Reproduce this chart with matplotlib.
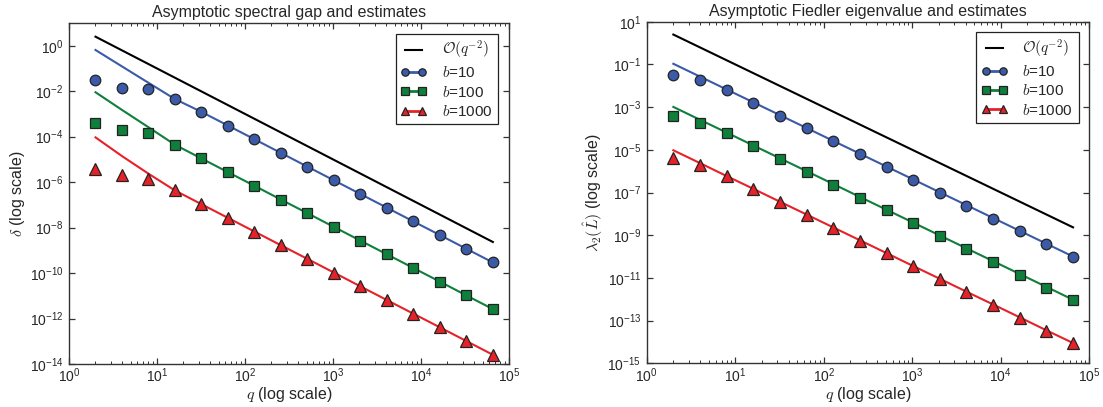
import matplotlib
matplotlib.use('Agg')
import matplotlib.pyplot as plt
from matplotlib.lines import Line2D
from matplotlib.ticker import FixedLocator, LogLocator, NullLocator, NullFormatter

plt.rcParams['font.family'] = ['Liberation Sans', 'DejaVu Sans']
plt.rcParams['mathtext.fontset'] = 'cm'
plt.rcParams['axes.unicode_minus'] = True

# ---------------- data ----------------
q = [2, 4, 8, 16, 32, 64, 128, 256, 512, 1024, 2048, 4096, 8192, 16384, 32768, 65536]

# reference O(q^-2) line (end points)
ref_q = [2, 65536]
ref_left = [2.5, 2.33e-9]
ref_right = [2.5, 2.33e-9]

# Left panel: spectral gap delta -- measured (markers)
gap_b10 = [3.1e-2, 1.35e-2, 1.26e-2, 4.5e-3, 1.23e-3, 3.08e-4, 7.7e-5, 1.92e-5, 4.8e-6,
           1.2e-6, 3.0e-7, 7.5e-8, 1.87e-8, 4.7e-9, 1.17e-9, 2.93e-10]
gap_b100 = [3.9e-4, 2.0e-4, 1.42e-4, 4.4e-5, 1.1e-5, 2.74e-6, 6.9e-7, 1.71e-7, 4.3e-8,
            1.07e-8, 2.67e-9, 6.7e-10, 1.67e-10, 4.2e-11, 1.04e-11, 2.6e-12]
gap_b1000 = [3.8e-6, 2.0e-6, 1.4e-6, 4.3e-7, 1.07e-7, 2.68e-8, 6.7e-9, 1.67e-9, 4.2e-10,
             1.05e-10, 2.6e-11, 6.5e-12, 1.63e-12, 4.1e-13, 1.02e-13, 2.55e-14]
# Left panel: estimates (lines)
gap_est_b10 = [0.65, 0.123, 2.34e-2, 4.5e-3, 1.23e-3, 3.08e-4, 7.7e-5, 1.92e-5, 4.8e-6,
               1.2e-6, 3.0e-7, 7.5e-8, 1.87e-8, 4.7e-9, 1.17e-9, 2.93e-10]
gap_est_b100 = [9.0e-3, 1.5e-3, 2.6e-4, 4.4e-5, 1.1e-5, 2.74e-6, 6.9e-7, 1.71e-7, 4.3e-8,
                1.07e-8, 2.67e-9, 6.7e-10, 1.67e-10, 4.2e-11, 1.04e-11, 2.6e-12]
gap_est_b1000 = [9.3e-5, 1.4e-5, 2.35e-6, 4.3e-7, 1.07e-7, 2.68e-8, 6.7e-9, 1.67e-9, 4.2e-10,
                 1.05e-10, 2.6e-11, 6.5e-12, 1.63e-12, 4.1e-13, 1.02e-13, 2.55e-14]

# Right panel: Fiedler eigenvalue -- measured (markers)
fied_b10 = [3.2e-2, 1.86e-2, 6.1e-3, 1.6e-3, 4.0e-4, 1.0e-4, 2.5e-5, 6.2e-6, 1.55e-6,
            3.9e-7, 9.8e-8, 2.4e-8, 6.0e-9, 1.5e-9, 3.8e-10, 9.5e-11]
fied_b100 = [3.8e-4, 1.86e-4, 5.9e-5, 1.5e-5, 3.7e-6, 9.3e-7, 2.3e-7, 5.8e-8, 1.45e-8,
             3.6e-9, 9.1e-10, 2.26e-10, 5.7e-11, 1.42e-11, 3.5e-12, 8.9e-13]
fied_b1000 = [4.0e-6, 1.95e-6, 5.9e-7, 1.45e-7, 3.5e-8, 8.9e-9, 2.2e-9, 5.5e-10, 1.39e-10,
              3.5e-11, 8.7e-12, 2.16e-12, 5.4e-13, 1.35e-13, 3.4e-14, 8.5e-15]
# Right panel: estimates (lines)
fied_est_b10 = [0.107, 2.68e-2, 6.7e-3, 1.68e-3, 4.2e-4, 1.05e-4, 2.62e-5, 6.56e-6, 1.64e-6,
                4.1e-7, 1.02e-7, 2.56e-8, 6.4e-9, 1.6e-9, 4.0e-10, 1.0e-10]
fied_est_b100 = [1.02e-3, 2.55e-4, 6.4e-5, 1.6e-5, 4.0e-6, 1.0e-6, 2.5e-7, 6.2e-8, 1.56e-8,
                 3.9e-9, 9.7e-10, 2.43e-10, 6.1e-11, 1.52e-11, 3.8e-12, 9.5e-13]
fied_est_b1000 = [9.5e-6, 2.38e-6, 5.9e-7, 1.49e-7, 3.7e-8, 9.3e-9, 2.32e-9, 5.8e-10, 1.45e-10,
                  3.6e-11, 9.1e-12, 2.26e-12, 5.7e-13, 1.42e-13, 3.5e-14, 8.9e-15]

series_labels = [r'$b$=10', r'$b$=100', r'$b$=1000']
ref_label = r'$\mathcal{O}(q^{-2})$'

x_tick_exps = [0, 1, 2, 3, 4, 5]
left_ytick_exps = [0, -2, -4, -6, -8, -10, -12, -14]
right_ytick_exps = [1, -1, -3, -5, -7, -9, -11, -13, -15]

titles = ['Asymptotic spectral gap and estimates', 'Asymptotic Fiedler eigenvalue and estimates']
ylabels = [r'$\delta$ (log scale)', r'$\lambda_2(\hat{L})$ (log scale)']
xlabel = r'$q$ (log scale)'

# ---------------- style ----------------
colors = ['#3b5ba8', '#0f7f3c', '#e62229']
markers = ['o', 's', '^']
text_color = '#262626'
spine_color = '#333333'

fig = plt.figure(figsize=(11.03, 4.07), dpi=100)
ax1 = fig.add_axes([0.06256, 0.10565, 0.39891, 0.83784])
ax2 = fig.add_axes([0.58631, 0.10737, 0.40127, 0.83931])


def fmt_exp(e):
    return r'$\mathregular{10^{%d}}$' % e


def draw(ax, meas, est, ref_vals, ylim, yexps, title, ylabel):
    ax.plot(ref_q, ref_vals, color='black', lw=1.5, zorder=2)
    for m, e, c, mk in zip(meas, est, colors, markers):
        ax.plot(q, e, color=c, lw=1.5, zorder=3)
        ax.plot(q, m, linestyle='none', marker=mk, ms=7.6 if mk != '^' else 8.2,
                mfc=c, mec='#222222', mew=0.9, zorder=4)
    ax.set_xscale('log')
    ax.set_yscale('log')
    ax.set_xlim(1, 1e5)
    ax.set_ylim(*ylim)
    ax.set_xticks([10.0 ** e for e in x_tick_exps], labels=[fmt_exp(e) for e in x_tick_exps])
    ax.xaxis.set_minor_locator(LogLocator(base=10, subs=range(2, 10), numticks=20))
    ax.xaxis.set_minor_formatter(NullFormatter())
    ax.set_yticks([10.0 ** e for e in yexps], labels=[fmt_exp(e) for e in yexps])
    ax.yaxis.set_minor_locator(NullLocator())
    ax.tick_params(which='both', direction='in', top=True, right=True,
                   colors=spine_color, labelcolor=text_color, labelsize=10)
    ax.tick_params(which='major', length=4.5, width=0.9)
    ax.tick_params(axis='x', which='major', pad=2)
    ax.tick_params(axis='y', which='major', pad=4)
    ax.tick_params(which='minor', length=2.2, width=0.7)
    for sp in ax.spines.values():
        sp.set_color(spine_color)
        sp.set_linewidth(1.0)
    ax.set_title(title, fontsize=11.5, color=text_color, pad=4)
    ax.set_xlabel(xlabel, fontsize=11.5, color=text_color, labelpad=0)
    ax.set_ylabel(ylabel, fontsize=11.5, color=text_color, labelpad=2)

    handles = [Line2D([], [], color='black', lw=1.5)]
    for c, mk in zip(colors, markers):
        handles.append(Line2D([], [], color=c, lw=2, marker=mk, ms=7.6 if mk != '^' else 8.2,
                              mfc=c, mec='#222222', mew=0.9))
    leg = ax.legend(handles, [ref_label] + series_labels, loc='upper right', fontsize=11,
                    numpoints=2, markerscale=0.7, fancybox=False, framealpha=1,
                    edgecolor='#222222', handlelength=1.7, handletextpad=1.0,
                    borderaxespad=0.7, borderpad=0.35, labelspacing=0.28)
    leg.get_frame().set_linewidth(0.9)
    for t in leg.get_texts():
        t.set_color(text_color)


draw(ax1, [gap_b10, gap_b100, gap_b1000], [gap_est_b10, gap_est_b100, gap_est_b1000],
     ref_left, (1e-14, 1e1), left_ytick_exps, titles[0], ylabels[0])
draw(ax2, [fied_b10, fied_b100, fied_b1000], [fied_est_b10, fied_est_b100, fied_est_b1000],
     ref_right, (1e-15, 1e1), right_ytick_exps, titles[1], ylabels[1])

fig.savefig('out.png', dpi=100)
